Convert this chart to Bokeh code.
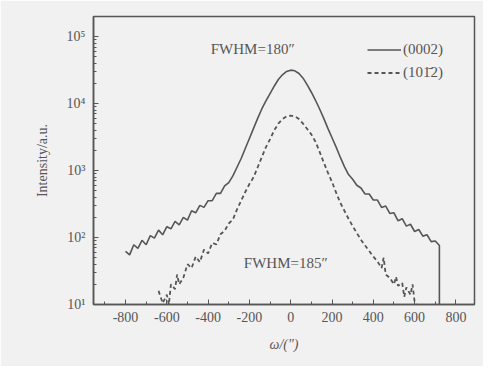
from bokeh.plotting import figure
from bokeh.models import (Range1d, FixedTicker, SingleIntervalTicker, Label,
                          Legend, LegendItem)
from bokeh.embed import file_html
from bokeh.resources import INLINE

# ---- data ----
omega_0002 = [-800, -780, -760, -740, -720, -700, -680, -660, -640, -620, -600,
              -580, -560, -540, -520, -500, -480, -460, -440, -420, -400, -380,
              -360, -340, -320, -300, -280, -260, -240, -220, -200, -180, -160,
              -140, -120, -100, -80, -60, -40, -20, 0, 20, 40, 60, 80, 100, 120,
              140, 160, 180, 200, 220, 240, 260, 280, 300, 320, 340, 360, 380,
              400, 420, 440, 460, 480, 500, 520, 540, 560, 580, 600, 620, 640,
              660, 680, 700, 720, 720]
int_0002 = [62, 55, 78, 69, 91, 78, 107, 98, 129, 110, 145,
            135, 174, 155, 200, 182, 251, 234, 302, 282, 355, 355,
            457, 457, 589, 661, 832, 1122, 1514, 2138, 3020, 4266, 6026,
            8318, 10965, 14125, 18197, 22909, 26915, 30200, 31623, 30903, 28184,
            23988, 19055, 14791, 11220, 8318, 6026, 4266, 3090, 2239, 1585, 1148,
            871, 741, 603, 550, 447, 447, 363, 363, 282, 295, 229, 234, 178, 191,
            148, 158, 123, 132, 105, 110, 87, 89, 76, 10]

omega_1012 = [-640, -620, -600, -590, -580, -560, -550, -540, -520, -500, -480,
              -460, -440, -420, -400, -380, -360, -340, -320, -300, -280, -260,
              -240, -220, -200, -180, -160, -140, -120, -100, -80, -60, -40, -20,
              0, 20, 40, 60, 80, 100, 120, 140, 160, 180, 200, 220, 240, 260, 280,
              300, 320, 340, 360, 380, 400, 420, 440, 450, 460, 480, 500, 510, 520,
              540, 550, 560, 580, 590, 600, 610]
int_1012 = [16, 10.5, 14, 10, 20, 17, 28, 20, 25, 40, 35,
            52, 43, 66, 58, 83, 79, 112, 126, 162, 186, 263,
            355, 479, 631, 794, 1122, 1585, 2239, 2951, 3981, 5012, 5888, 6457,
            6607, 6457, 5888, 5012, 4169, 3467, 2692, 1905, 1318, 933, 676, 468,
            331, 251, 191, 148, 117, 93, 76, 63, 52, 44, 35, 50, 28, 25, 20, 26,
            19, 21, 13, 18, 14, 20, 11, 10]

x_tick_labels = {-800: "-800", -600: "-600", -400: "-400", -200: "-200",
                 0: "0", 200: "200", 400: "400", 600: "600", 800: "800"}
y_ticks = [10, 100, 1000, 10000, 100000]
y_tick_labels = {10: "10\u00b9", 100: "10\u00b2", 1000: "10\u00b3",
                 10000: "10\u2074", 100000: "10\u2075"}
series_labels = ["(0002)", "(101\u03042)"]
fwhm_texts = ["FWHM=180\u2033", "FWHM=185\u2033"]

INK = "#565656"
BG = "#f1f1f1"
FONT = "Liberation Serif"

p = figure(width=483, height=366, y_axis_type="log", output_backend="svg",
           toolbar_location=None, x_range=Range1d(-955, 890),
           y_range=Range1d(10, 2.0e5))
p.min_border_left = 93
p.min_border_right = 9
p.min_border_top = 16
p.min_border_bottom = 62
p.background_fill_color = BG
p.border_fill_color = BG
p.outline_line_color = INK
p.outline_line_width = 1.5
p.grid.visible = False

r1 = p.line(omega_0002, int_0002, line_color=INK, line_width=1.6)
r2 = p.line(omega_1012, int_1012, line_color=INK, line_width=1.8,
            line_dash="4 3")

# axes
xa = p.xaxis[0]
xa.ticker = SingleIntervalTicker(interval=200, num_minor_ticks=2)
xa.major_label_overrides = x_tick_labels
ya = p.yaxis[0]
minor = [m * 10 ** e for e in range(1, 6) for m in range(2, 10)]
ya.ticker = FixedTicker(ticks=y_ticks, minor_ticks=minor)
ya.major_label_overrides = y_tick_labels
for ax in (xa, ya):
    ax.axis_line_color = INK
    ax.axis_line_width = 1.5
    ax.major_tick_line_color = INK
    ax.minor_tick_line_color = INK
    ax.major_tick_in = 5
    ax.major_tick_out = 0
    ax.minor_tick_in = 3
    ax.minor_tick_out = 0
    ax.major_label_text_font = FONT
    ax.major_label_text_font_size = "14px"
    ax.major_label_text_color = INK
    ax.axis_label_text_font = FONT
    ax.axis_label_text_font_size = "14px"
    ax.axis_label_text_color = INK
    ax.axis_label_text_font_style = "normal"
xa.major_label_standoff = 7
xa.axis_label = "\u03c9/(\u2033)"
xa.axis_label_text_font_style = "italic"
xa.axis_label_standoff = 12
ya.major_label_standoff = 8
ya.axis_label = "Intensity/a.u."
ya.axis_label_standoff = 14

# annotations
p.add_layout(Label(x=-184, y=6.5e4, text=fwhm_texts[0], text_font=FONT,
                   text_font_size="15px", text_color=INK, text_align="center",
                   text_baseline="middle"))
p.add_layout(Label(x=-24, y=41, text=fwhm_texts[1], text_font=FONT,
                   text_font_size="15px", text_color=INK, text_align="center",
                   text_baseline="middle"))

legend = Legend(items=[LegendItem(label=series_labels[0], renderers=[r1]),
                       LegendItem(label=series_labels[1], renderers=[r2])],
                location=(274, 222))
legend.background_fill_alpha = 0
legend.border_line_alpha = 0
legend.label_text_font = FONT
legend.label_text_font_size = "15px"
legend.label_text_color = INK
legend.glyph_width = 34
legend.glyph_height = 19
legend.label_height = 19
legend.spacing = 4
legend.padding = 0
legend.margin = 0
legend.label_standoff = 2
p.add_layout(legend, "center")

open("out.html", "w").write(file_html(p, INLINE))
